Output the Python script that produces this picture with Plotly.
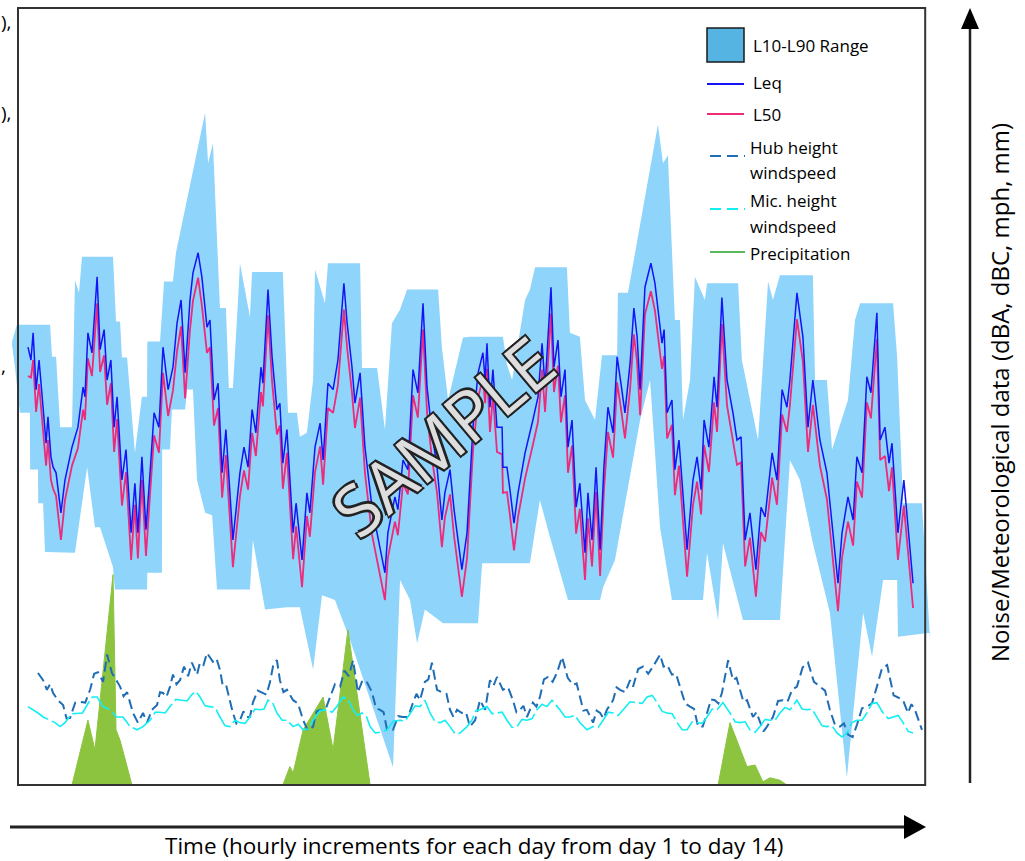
import plotly.graph_objects as go

# ---------------- data (time in hours from start of day 1) ----------------
noise_hours = [3.7,4.8,5.6,6.7,7.8,9.3,10.4,11.1,12.2,13.0,
 14.1,15.9,17.4,20.0,22.2,24.1,24.8,25.9,27.4,29.3,
 30.4,31.9,33.0,34.4,35.6,36.7,38.5,40.0,41.9,43.3,
 44.4,45.9,47.4,48.9,50.4,52.2,53.7,55.6,57.4,58.9,
 60.4,61.9,63.7,64.8,66.7,68.1,70.0,71.1,72.6,74.1,
 75.6,77.0,79.6,82.2,83.7,85.2,86.7,88.1,90.0,90.7,
 92.6,94.1,95.9,97.0,98.1,99.6,101.9,103.0,105.2,107.0,
 108.1,110.0,111.9,113.0,114.8,116.7,118.5,120.7,121.9,123.7,
 124.8,126.7,128.5,131.1,133.0,135.9,137.0,139.6,140.7,142.6,
 144.4,146.3,148.1,150.0,151.5,153.3,155.2,157.0,158.1,160.0,
 161.5,164.4,166.3,168.5,170.4,172.2,173.0,173.7,174.8,175.9,
 177.4,179.3,179.6,181.1,182.2,183.7,185.2,187.8,190.7,192.6,
 194.1,195.2,197.4,198.5,200.0,201.1,202.6,203.7,205.2,206.7,
 208.1,210.0,211.1,212.6,214.1,215.6,217.0,218.5,220.4,221.9,
 223.3,224.8,226.7,228.1,229.3,230.4,232.2,234.4,235.9,237.0,
 238.5,239.3,240.4,242.2,243.3,244.8,247.8,250.0,251.5,253.0,
 254.1,255.9,257.8,258.9,260.7,262.6,264.8,266.3,267.8,269.3,
 271.1,273.3,275.2,276.7,279.3,281.1,283.0,284.8,285.9,288.5,
 290.7,292.6,294.4,297.0,299.6,303.7,305.2,307.4,309.3,310.7,
 312.6,314.4,315.9,318.1,319.3,321.1,322.6,323.7,325.9,328.1,
 331.5]

leq = [56.6,55.0,58.4,51.3,55.0,48.4,44.6,47.9,42.9,41.6,
 40.9,35.9,40.0,44.1,46.6,51.6,50.4,58.4,55.9,65.4,
 56.3,58.8,52.5,55.0,46.6,50.4,40.0,43.8,33.4,39.6,
 33.4,42.9,33.8,40.9,48.4,46.6,56.6,51.3,54.1,59.6,
 62.5,53.4,62.5,65.9,68.4,65.4,59.1,60.0,50.0,52.1,
 40.9,46.3,32.5,40.9,44.1,41.6,48.8,45.9,54.1,52.1,
 63.8,55.4,48.8,49.6,42.1,46.3,33.4,37.1,30.0,38.4,
 35.9,44.1,47.1,42.5,52.1,51.3,55.0,64.6,59.6,54.1,
 49.6,53.4,44.1,36.6,33.4,28.4,33.4,37.9,36.3,42.5,
 41.3,53.8,50.9,62.1,51.6,45.9,41.6,35.0,38.4,41.3,
 36.3,28.8,33.4,46.6,53.4,55.9,52.5,57.1,49.1,53.8,
 46.6,46.6,41.6,41.6,38.8,34.6,38.4,43.4,47.5,50.4,
 57.1,51.6,64.1,54.1,57.5,50.4,53.8,44.1,47.5,36.6,
 39.6,30.9,38.4,32.5,41.6,31.3,41.6,49.1,45.9,55.4,
 52.1,48.4,54.6,61.5,57.9,51.3,64.1,67.1,64.6,61.3,
 57.1,58.8,48.4,50.0,41.3,45.0,31.3,40.0,42.9,38.8,
 47.5,44.1,52.9,49.1,62.8,52.5,48.4,45.0,45.4,32.5,
 35.9,28.8,36.6,35.4,43.4,40.0,51.3,49.1,52.5,63.4,
 57.9,46.6,52.5,45.0,40.9,27.1,33.4,37.9,35.0,42.9,
 40.9,52.9,50.9,60.9,45.0,46.6,42.1,44.6,33.4,40.0,
 27.1]

l50 = [53.0,52.8,55.0,48.5,52.0,45.5,41.8,45.0,40.0,38.9,
 38.0,32.5,37.5,41.8,44.0,48.8,47.5,55.2,53.0,62.1,
 53.5,55.6,49.4,52.1,43.5,47.6,36.8,41.0,30.0,36.9,
 30.2,40.0,30.5,38.2,45.6,43.4,53.4,48.0,51.2,56.1,
 59.2,50.2,58.8,62.4,65.3,61.8,55.9,56.6,46.8,49.0,
 37.8,43.1,29.1,38.0,41.2,38.8,45.9,43.0,51.0,49.2,
 60.6,52.3,45.7,46.8,38.9,43.4,30.1,34.2,26.6,35.5,
 32.9,41.0,44.2,39.4,49.0,48.4,51.9,61.3,56.5,50.9,
 46.5,50.3,40.9,33.2,30.0,25.0,30.3,34.8,33.1,39.6,
 38.2,50.6,47.8,58.8,48.4,42.7,38.4,31.6,35.3,38.2,
 33.0,25.4,30.2,43.6,50.3,52.8,49.6,53.9,46.0,50.6,
 43.5,43.2,38.4,38.5,35.6,31.2,35.4,40.2,44.4,47.3,
 53.8,48.5,60.8,51.0,54.3,47.2,50.6,40.9,44.3,33.3,
 36.4,27.5,35.2,29.2,38.5,28.0,38.6,46.0,42.8,52.2,
 49.0,45.2,51.4,58.2,54.7,48.1,60.7,63.6,61.2,58.0,
 53.9,55.5,45.2,46.9,38.1,41.8,27.9,36.9,39.8,35.7,
 44.4,41.0,49.7,46.0,59.5,49.3,45.2,41.9,42.2,29.2,
 32.8,25.4,33.5,32.3,40.3,36.9,48.2,46.0,49.4,60.1,
 54.8,43.5,49.4,41.8,37.6,23.6,30.3,34.8,31.8,39.8,
 37.8,49.7,47.7,57.6,42.5,43.0,38.6,41.6,30.0,36.8,
 24.0]

# L10 (upper edge of range band)
l10_hours = [-2.2,-0.4,11.9,12.6,14.1,15.6,20.0,21.1,22.6,23.7,35.2,36.3,37.8,38.5,40.4,
 43.3,45.9,47.8,47.9,52.6,54.1,57.4,58.5,69.3,70.4,72.2,74.8,77.0,78.1,79.6,
 81.5,82.2,85.9,86.7,98.1,98.9,99.6,100.0,103.3,104.4,107.0,109.3,110.0,113.7,114.8,
 126.7,127.4,133.0,135.9,
 138.5,141.5,144.1,155.6,157.0,159.3,164.8,167.4,179.6,181.1,183.0,187.8,189.6,191.5,203.3,
 204.4,208.1,210.0,213.7,216.3,221.9,222.2,225.9,237.0,238.9,240.7,243.3,245.2,246.3,248.9,
 250.7,254.4,255.2,266.7,268.1,271.1,274.1,276.7,277.8,279.6,282.2,294.4,295.2,299.6,301.5,
 307.4,310.0,311.9,324.1,325.6,326.7,327.8,334.8,337.8]
l10 = [57.3,59.4,59.4,55.4,55.4,46.6,46.6,65.0,63.4,67.9,67.9,59.8,59.8,55.3,55.3,
 43.4,50.4,50.4,57.3,57.3,64.8,64.8,68.4,85.9,79.6,82.1,61.5,61.5,51.5,51.5,
 62.5,67.1,60.4,66.0,66.0,57.5,52.5,48.4,48.4,45.4,45.9,52.5,66.3,62.1,67.1,
 67.1,54.0,54.0,46.3,
 59.6,61.3,63.8,63.8,56.6,50.0,57.8,57.9,57.9,54.4,52.5,62.5,63.8,66.6,66.6,
 58.4,57.9,50.0,47.5,55.6,55.6,63.4,63.4,84.4,79.6,80.6,60.0,60.0,47.5,52.5,
 65.4,62.5,64.6,64.6,55.0,50.0,45.0,58.8,64.8,62.5,65.6,65.6,52.5,52.5,43.8,
 50.0,60.0,62.1,62.1,55.4,46.6,37.1,37.1,20.0]

# L90 (lower edge of range band)
l90_hours = [-2.2,-1.1,0.7,4.4,4.5,7.4,7.5,9.3,10.0,21.1,25.6,28.5,30.4,35.2,35.9,
 47.8,47.9,53.3,53.4,56.3,57.0,61.9,62.6,64.8,66.3,69.3,71.9,73.7,
 85.9,87.0,91.5,99.6,104.4,109.3,112.6,
 117.4,123.0,138.9,141.5,145.2,147.8,150.7,157.4,170.4,171.9,189.6,193.3,197.0,203.7,215.6,
 216.7,221.1,230.4,234.1,237.8,242.2,253.7,255.2,259.3,261.1,268.5,282.2,285.9,289.6,294.4,
 300.7,307.0,313.0,316.3,320.4,325.6,325.9,337.8]
l90 = [56.9,54.0,48.4,48.4,41.3,41.3,37.1,37.1,31.0,30.9,41.6,34.1,34.1,29.1,26.3,
 26.3,28.4,28.4,43.8,43.8,48.8,48.8,51.3,51.3,40.0,35.9,35.6,26.3,
 26.3,32.5,23.8,24.1,24.1,16.3,25.6,
 25.0,20.0,4.1,27.5,25.0,19.6,23.8,22.1,22.1,29.6,29.6,37.5,32.9,25.0,25.0,
 26.6,30.0,47.5,52.5,34.1,25.0,25.0,30.9,22.5,32.1,22.5,22.5,42.5,40.0,32.1,
 23.4,2.8,23.4,17.9,27.5,27.5,20.4,20.9]

# Hub height windspeed (mph)
hub_hours = [7.4,9.3,10.7,11.9,13.0,14.8,16.7,18.0,19.3,21.2,
 23.0,24.9,26.7,28.2,29.6,31.5,33.0,34.8,35.9,37.8,
 39.1,40.4,42.6,44.4,46.3,47.8,49.6,51.5,52.6,53.7,
 55.0,56.3,57.4,58.7,60.0,61.5,63.0,64.4,66.3,67.4,
 68.7,70.0,72.2,73.5,74.8,75.9,77.2,78.5,79.6,80.9,
 82.2,83.5,84.8,85.9,87.0,88.8,90.7,92.0,93.3,94.6,
 95.9,97.0,98.3,99.6,101.9,103.7,105.6,107.4,109.3,110.6,
 111.9,113.7,115.6,117.4,119.3,120.9,122.5,124.1,125.9,127.6,
 129.3,131.1,132.6,134.1,135.4,136.7,138.9,140.8,142.6,144.5,
 146.3,147.6,148.9,150.7,152.0,153.3,155.2,157.4,158.7,160.0,
 161.3,162.6,164.4,165.9,167.4,169.3,171.1,173.0,174.8,176.1,
 177.4,179.6,181.5,183.3,184.6,185.9,187.2,188.5,190.7,192.0,
 193.3,194.8,196.3,198.0,199.6,201.5,203.6,205.6,206.9,208.1,
 209.4,210.7,213.0,214.3,215.6,216.9,218.1,220.4,221.7,223.0,
 224.9,226.7,227.8,229.7,231.5,233.4,235.2,237.8,239.1,240.4,
 242.2,243.7,245.2,247.1,248.9,250.4,251.9,253.6,255.2,256.7,
 258.1,259.4,260.7,263.0,264.8,266.1,267.4,268.7,270.0,272.2,
 273.5,274.8,276.1,277.4,279.6,281.5,283.3,285.0,286.7,288.5,
 290.6,292.6,294.8,297.0,298.9,300.7,302.6,304.4,305.9,307.4,
 309.1,310.7,312.6,314.4,316.3,318.1,320.0,321.9,323.0,324.3,
 325.6,327.8,329.6,330.9,332.2,334.8]
hub = [14.0,13.1,11.9,12.6,11.5,10.6,10.0,8.3,8.4,10.3,
 10.4,10.3,11.9,13.9,14.1,12.9,16.3,14.0,13.4,12.3,
 11.1,11.6,9.0,7.8,9.0,7.8,9.4,10.0,11.6,11.5,
 11.0,12.3,13.8,12.6,13.1,14.8,13.6,15.3,13.8,15.3,
 15.0,16.5,15.4,15.8,14.4,12.3,12.3,10.6,9.0,7.7,
 8.1,9.2,8.5,8.5,10.3,11.8,11.5,11.3,12.8,15.1,
 15.6,13.1,11.6,11.9,10.6,10.2,8.1,6.8,7.3,9.2,
 9.4,9.3,11.0,12.6,12.3,14.3,13.6,15.6,11.6,13.1,
 12.8,11.6,9.6,9.4,9.1,6.9,6.9,8.6,8.5,8.5,
 10.3,11.4,10.6,12.9,13.2,15.3,11.9,11.5,11.4,9.4,
 8.5,9.4,9.0,9.1,7.3,8.1,10.6,9.4,13.1,12.4,
 13.5,11.9,12.2,10.6,9.1,9.4,9.9,8.5,10.3,9.8,
 11.0,13.2,13.5,12.9,14.0,16.0,13.4,12.5,12.7,11.0,
 9.3,9.4,7.8,9.3,9.0,8.3,9.4,10.6,12.2,11.9,
 11.6,13.1,12.3,14.5,14.8,13.9,14.8,16.3,14.8,15.0,
 13.8,13.9,12.3,10.2,9.8,9.5,7.3,7.3,9.0,10.7,
 10.6,10.2,11.5,15.6,13.1,13.4,11.9,10.4,10.6,8.5,
 9.1,7.8,6.7,7.3,8.5,10.5,10.6,10.4,11.9,12.3,
 14.7,15.3,12.9,12.3,11.8,9.4,7.5,7.3,7.7,6.3,
 6.0,7.5,9.6,9.8,10.2,12.3,14.6,15.0,13.1,11.2,
 11.0,10.6,9.0,10.1,9.4,6.9]

# Microphone height windspeed (mph)
mic_hours = [3.7,5.6,7.4,9.3,11.9,13.7,15.6,17.4,19.8,22.2,
 23.9,25.6,27.5,29.3,31.5,34.1,36.5,38.9,41.5,44.1,
 46.3,48.9,50.8,52.6,54.5,56.3,58.5,60.7,62.6,64.4,
 65.9,67.4,69.3,71.1,73.0,74.8,76.7,78.5,80.4,82.2,
 84.1,85.9,87.8,89.6,91.1,92.6,94.3,95.9,97.8,99.6,
 101.9,103.8,105.6,107.5,109.3,111.9,114.4,116.3,118.1,120.4,
 122.3,124.1,125.8,127.4,128.9,130.4,132.3,134.1,136.7,139.1,
 141.5,143.4,145.2,147.1,148.9,150.7,152.6,154.5,156.3,158.2,
 160.0,161.9,163.7,166.3,168.1,169.6,171.1,173.7,175.6,177.4,
 179.3,181.1,183.0,184.8,186.7,188.5,190.4,192.2,194.1,195.9,
 197.8,200.7,202.6,204.4,206.3,208.1,210.7,213.0,214.9,216.7,
 218.6,220.4,222.3,224.1,226.7,229.3,231.2,233.0,234.9,236.7,
 238.6,240.4,242.3,244.1,246.0,247.8,249.7,251.5,253.4,255.2,
 257.1,258.9,261.1,263.7,265.6,267.4,269.3,271.1,273.0,274.8,
 276.7,278.5,280.4,282.2,284.1,285.9,288.5,290.4,292.2,294.1,
 295.9,297.8,299.6,301.5,303.3,305.2,307.0,308.9,310.7,312.6,
 314.4,316.3,318.1,320.4,322.3,324.1,326.0,327.8,329.7,331.5]
mic = [9.8,9.4,9.0,8.5,8.1,7.8,7.3,7.8,8.9,9.0,
 9.0,10.0,11.0,11.0,9.8,9.4,8.5,8.5,7.3,6.9,
 7.3,8.1,9.1,9.1,9.0,9.8,10.7,10.6,10.5,11.3,
 11.7,11.0,9.9,9.8,9.7,8.5,7.4,7.3,8.1,7.8,
 7.7,8.5,9.5,9.4,9.5,10.6,10.3,9.0,8.1,8.1,
 7.3,7.6,6.9,7.0,8.1,9.3,9.4,9.1,9.8,11.0,
 10.7,9.4,8.7,9.0,8.7,7.3,6.5,6.6,6.9,8.0,
 8.1,8.0,9.0,9.9,9.8,10.6,9.0,7.9,7.8,8.1,
 7.3,6.4,6.5,7.3,8.1,9.3,9.4,9.8,8.9,9.0,
 9.1,8.1,7.2,7.3,8.2,8.1,8.3,9.4,10.1,9.8,
 10.6,9.4,8.5,8.5,8.7,7.8,6.9,7.3,7.2,8.1,
 9.1,9.0,8.7,9.4,10.4,10.3,10.2,11.0,11.2,10.3,
 9.2,9.0,8.9,7.8,6.9,6.9,7.9,7.8,7.7,8.5,
 9.5,9.4,10.3,9.0,7.9,7.8,7.9,6.9,6.6,7.3,
 8.2,8.1,8.1,9.0,9.7,9.4,10.6,9.5,9.4,9.5,
 8.5,7.4,7.3,7.4,6.5,6.0,6.5,7.8,8.1,8.1,
 9.0,10.2,10.3,9.0,8.3,8.5,8.7,7.8,6.7,6.5]

# Precipitation (mm)
precip_hours = [0,20.0,25.9,28.5,35.2,36.3,37.8,42.2,98.1,100.7,101.9,105.6,113.0,116.7,122.2,
 130.4,259.3,263.7,270.0,273.0,275.9,278.5,282.2,284.8,336]
precip = [0,0,8.1,4.4,26.3,6.9,5.6,0,0,2.3,1.5,6.9,11.0,4.4,19.4,
 0,0,7.8,2.3,2.5,0.4,0.9,0.6,0,0]

legend_labels = ["L10-L90 Range", "Leq", "L50", "Hub height", "windspeed",
                 "Mic. height", "windspeed", "Precipitation"]
x_title = "Time (hourly increments for each day from day 1 to day 14)"
y_title = "Noise/Meteorological data (dBA, dBC, mph, mm)"

# ---------------- styling ----------------
W, H = 1025, 861
C_BAND = "#8fd4fb"
C_BAND_LEG = "#55b4e1"
C_LEQ = "#1414f5"
C_L50 = "#ee2a7b"
C_HUB = "#1f6db4"
C_MIC = "#12eef2"
C_PRE = "#8cc43f"
FONT = "Open Sans"

def PX(x):
    return x / W

def PY(y):
    return 1 - y / H

fig = go.Figure()

band_x = l10_hours + l90_hours[::-1]
band_y = l10 + l90[::-1]
fig.add_trace(go.Scatter(x=band_x, y=band_y, mode="lines", fill="toself",
                         fillcolor=C_BAND, line=dict(width=0, color=C_BAND),
                         hoverinfo="skip", showlegend=False))
fig.add_trace(go.Scatter(x=precip_hours, y=precip, yaxis="y2", mode="lines",
                         fill="tozeroy", fillcolor=C_PRE,
                         line=dict(width=1, color=C_PRE), showlegend=False))
fig.add_trace(go.Scatter(x=hub_hours, y=hub, yaxis="y2", mode="lines",
                         line=dict(width=2, color=C_HUB, dash="10px,5px"),
                         showlegend=False))
fig.add_trace(go.Scatter(x=mic_hours, y=mic, yaxis="y2", mode="lines",
                         line=dict(width=1.6, color=C_MIC, dash="24px,4px"),
                         showlegend=False))
fig.add_trace(go.Scatter(x=noise_hours, y=l50, mode="lines",
                         line=dict(width=1.8, color=C_L50), showlegend=False))
fig.add_trace(go.Scatter(x=noise_hours, y=leq, mode="lines",
                         line=dict(width=1.5, color=C_LEQ), showlegend=False))

shapes = []
# plot frame = data window (0..336 h)
shapes.append(dict(type="rect", xref="x", yref="y2", x0=0, x1=336, y0=0, y1=97.125,
                   line=dict(color="#333333", width=2), fillcolor="rgba(0,0,0,0)"))
# axis arrows
shapes.append(dict(type="line", xref="paper", yref="paper", x0=PX(10), x1=PX(908),
                   y0=PY(827), y1=PY(827), line=dict(color="#222222", width=3)))
shapes.append(dict(type="path", xref="paper", yref="paper",
                   path=f"M {PX(904)},{PY(815)} L {PX(926)},{PY(827)} L {PX(904)},{PY(839)} Z",
                   fillcolor="#000000", line=dict(width=0)))
shapes.append(dict(type="line", xref="paper", yref="paper", x0=PX(970), x1=PX(970),
                   y0=PY(783), y1=PY(26), line=dict(color="#222222", width=2.5)))
shapes.append(dict(type="path", xref="paper", yref="paper",
                   path=f"M {PX(961)},{PY(29)} L {PX(970)},{PY(8)} L {PX(979)},{PY(29)} Z",
                   fillcolor="#000000", line=dict(width=0)))
# legend swatches
shapes.append(dict(type="rect", xref="paper", yref="paper", x0=PX(707), x1=PX(744),
                   y0=PY(62), y1=PY(28), fillcolor=C_BAND_LEG,
                   line=dict(color="#1a1a1a", width=1.5)))
shapes.append(dict(type="line", xref="paper", yref="paper", x0=PX(707), x1=PX(744),
                   y0=PY(84), y1=PY(84), line=dict(color=C_LEQ, width=1.8)))
shapes.append(dict(type="line", xref="paper", yref="paper", x0=PX(707), x1=PX(744),
                   y0=PY(114), y1=PY(114), line=dict(color=C_L50, width=1.8)))
shapes.append(dict(type="line", xref="paper", yref="paper", x0=PX(710), x1=PX(745),
                   y0=PY(156), y1=PY(156), line=dict(color=C_HUB, width=1.8, dash="11px,6px")))
shapes.append(dict(type="line", xref="paper", yref="paper", x0=PX(710), x1=PX(745),
                   y0=PY(209), y1=PY(209), line=dict(color=C_MIC, width=1.8, dash="11px,6px")))
shapes.append(dict(type="line", xref="paper", yref="paper", x0=PX(710), x1=PX(745),
                   y0=PY(252), y1=PY(252), line=dict(color="#5cb85c", width=1.8)))

ann = []
def txt(x, y, s, size=17, xanchor="left", angle=0, color="#000000"):
    ann.append(dict(x=PX(x), y=PY(y), xref="paper", yref="paper", text=s, showarrow=False,
                    xanchor=xanchor, yanchor="middle", textangle=angle,
                    font=dict(family=FONT, size=size, color=color)))

txt(751, 45, legend_labels[0])
txt(751, 83, legend_labels[1])
txt(751, 114, legend_labels[2])
txt(748, 147, legend_labels[3])
txt(748, 172, legend_labels[4])
txt(748, 201, legend_labels[5])
txt(748, 226, legend_labels[6])
txt(748, 253, legend_labels[7])
txt(474, 845, x_title, size=22.5, xanchor="center")
txt(999, 393, y_title, size=24, xanchor="center", angle=-90)
# clipped text fragments at left edge
txt(14, 22, "),", size=19, xanchor="right")
txt(14, 113, "),", size=19, xanchor="right")
txt(8, 366, ",", size=19, xanchor="right")

ann.append(dict(x=PX(442), y=PY(436), xref="paper", yref="paper", text="SAMPLE",
                showarrow=False, textangle=-40, xanchor="center", yanchor="middle",
                font=dict(family=FONT, size=70, color="#dedede",
                          shadow="-2px -2px 0 #222, 2px -2px 0 #222, -2px 2px 0 #222, 2px 2px 0 #222")))

fig.update_layout(
    width=W, height=H, margin=dict(l=0, r=0, t=0, b=0),
    paper_bgcolor="white", plot_bgcolor="white", showlegend=False,
    xaxis=dict(range=[-6.667, 372.963], visible=False, fixedrange=True),
    yaxis=dict(range=[-7.625, 100], visible=False, fixedrange=True),
    yaxis2=dict(range=[-9.5, 98.125], visible=False, overlaying="y", fixedrange=True),
    shapes=shapes, annotations=ann,
)

fig.write_html("out.html", config={"displayModeBar": False},
               post_script="document.body.style.margin='0';document.body.style.overflow='hidden';")
